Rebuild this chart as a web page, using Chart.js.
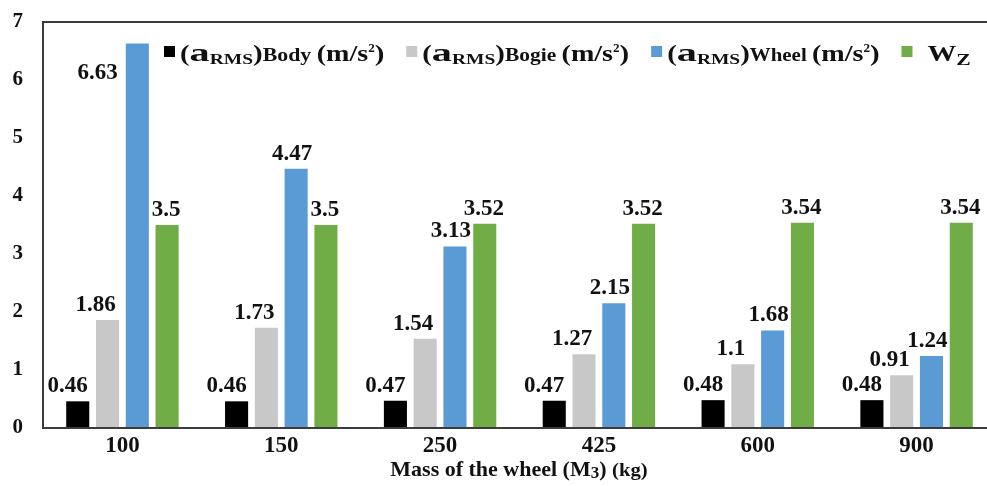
<!DOCTYPE html>
<html>
<head>
<meta charset="utf-8">
<script src="https://cdn.jsdelivr.net/npm/chart.js@4.4.1/dist/chart.umd.min.js"></script>
<style>
  html, body { margin: 0; padding: 0; background: #fff; overflow: hidden; }
  #wrap { width: 987px; height: 486px; overflow: hidden; position: relative; }
  #c { display: block; }
</style>
</head>
<body>
<div id="wrap"><canvas id="c" width="1000" height="486"></canvas></div>
<script>
// ---- data ----
const categories = ['100', '150', '250', '425', '600', '900'];
const bodyRms  = [0.46, 0.46, 0.47, 0.47, 0.48, 0.48];
const bogieRms = [1.86, 1.73, 1.54, 1.27, 1.1, 0.91];
const wheelRms = [6.63, 4.47, 3.13, 2.15, 1.68, 1.24];
const wz       = [3.5, 3.5, 3.52, 3.52, 3.54, 3.54];
const yTickValues = [0, 1, 2, 3, 4, 5, 6, 7];

const FONT = "'Liberation Serif', 'Times New Roman', serif";
const colors = ['#000000', '#c8c8c8', '#5b9bd5', '#70ad47'];

// legend text as rich segments (size, horizontal scale, vertical shift)
const legendItems = [
  { color: colors[0], segs: [
    { t: '(', s: 24, sx: 1.2 }, { t: 'a', s: 26, sx: 1.55 }, { t: 'RMS', s: 15, sx: 1.3, dy: 3 },
    { t: ')', s: 24, sx: 1.2 }, { t: 'Body ', s: 19, sx: 1.15 }, { t: '(m/s', s: 24, sx: 1.17 },
    { t: '2', s: 13, dy: -9 }, { t: ')', s: 24, sx: 1.2 } ] },
  { color: colors[1], segs: [
    { t: '(', s: 24, sx: 1.2 }, { t: 'a', s: 26, sx: 1.55 }, { t: 'RMS', s: 15, sx: 1.3, dy: 3 },
    { t: ')', s: 24, sx: 1.2 }, { t: 'Bogie ', s: 19, sx: 1.13 }, { t: '(m/s', s: 24, sx: 1.17 },
    { t: '2', s: 13, dy: -9 }, { t: ')', s: 24, sx: 1.2 } ] },
  { color: colors[2], segs: [
    { t: '(', s: 24, sx: 1.2 }, { t: 'a', s: 26, sx: 1.55 }, { t: 'RMS', s: 15, sx: 1.3, dy: 3 },
    { t: ')', s: 24, sx: 1.2 }, { t: 'Wheel ', s: 19, sx: 1.1 }, { t: '(m/s', s: 24, sx: 1.17 },
    { t: '2', s: 13, dy: -9 }, { t: ')', s: 24, sx: 1.2 } ] },
  { color: colors[3], segs: [
    { t: 'W', s: 23, sx: 1.25 }, { t: 'Z', s: 16, sx: 1.35, dy: 4 } ] }
];

const xTitleSegs = [
  { t: 'Mass of the wheel (M', s: 22 }, { t: '3', s: 17, dy: 2 }, { t: ') ', s: 22 },
  { t: '(kg)', s: 18, sx: 1.15 }
];

function segWidth(ctx, seg) {
  ctx.font = 'bold ' + seg.s + 'px ' + FONT;
  return ctx.measureText(seg.t).width * (seg.sx || 1);
}
function drawSegs(ctx, segs, x, baseline) {
  for (const seg of segs) {
    ctx.font = 'bold ' + seg.s + 'px ' + FONT;
    const w = ctx.measureText(seg.t).width;
    ctx.save();
    ctx.translate(x, baseline + (seg.dy || 0));
    ctx.scale(seg.sx || 1, 1);
    ctx.fillText(seg.t, 0, 0);
    ctx.restore();
    x += w * (seg.sx || 1);
  }
  return x;
}

const framePlugin = {
  id: 'frame',
  afterDraw(chart) {
    const { ctx, chartArea: a } = chart;
    ctx.save();
    ctx.strokeStyle = '#3c3c3c';
    ctx.lineWidth = 2;
    ctx.strokeRect(a.left, a.top, a.right - a.left, a.bottom - a.top);
    ctx.restore();
  }
};

const labelDx = [-10, -12, -4, -1];
const valueLabelPlugin = {
  id: 'valueLabels',
  afterDatasetsDraw(chart) {
    const { ctx, chartArea: a } = chart;
    ctx.save();
    ctx.fillStyle = '#111';
    ctx.font = 'bold 23px ' + FONT;
    ctx.textAlign = 'center';
    ctx.textBaseline = 'middle';
    chart.data.datasets.forEach((ds, di) => {
      const meta = chart.getDatasetMeta(di);
      meta.data.forEach((bar, i) => {
        const txt = String(ds.data[i]);
        const w = ctx.measureText(txt).width;
        let x = bar.x + labelDx[di];
        let y = bar.y - 15;
        if (bar.y - a.top < 40) {       // no room above: put it beside the bar
          x = bar.x - bar.width / 2 - 8 - w / 2;
          y = bar.y + 30;
        }
        ctx.fillText(txt, x, y);
      });
    });
    ctx.restore();
  }
};

const customLegendPlugin = {
  id: 'richLegend',
  afterDraw(chart) {
    const { ctx } = chart;
    ctx.save();
    ctx.textBaseline = 'alphabetic';
    ctx.textAlign = 'left';
    let x = 164;
    const baseline = 61;
    legendItems.forEach((it, idx) => {
      ctx.fillStyle = it.color;
      ctx.fillRect(x, 46, 11, 11);
      x += 11 + (idx === 3 ? 15 : 5);
      ctx.fillStyle = '#111';
      x = drawSegs(ctx, it.segs, x, baseline);
      x += 22;
    });
    // x-axis title
    const a = chart.chartArea;
    let total = 0;
    xTitleSegs.forEach(s => total += segWidth(ctx, s));
    const cx = (a.left + Math.min(a.right, 987)) / 2 + 4;
    ctx.fillStyle = '#111';
    drawSegs(ctx, xTitleSegs, cx - total / 2, 476);
    ctx.restore();
  }
};

new Chart(document.getElementById('c'), {
  type: 'bar',
  data: {
    labels: categories,
    datasets: [
      { label: '(aRMS)Body (m/s2)',  data: bodyRms,  backgroundColor: colors[0] },
      { label: '(aRMS)Bogie (m/s2)', data: bogieRms, backgroundColor: colors[1] },
      { label: '(aRMS)Wheel (m/s2)', data: wheelRms, backgroundColor: colors[2] },
      { label: 'WZ',                 data: wz,       backgroundColor: colors[3] }
    ]
  },
  options: {
    responsive: false,
    animation: false,
    layout: { padding: { top: 22, right: 4, bottom: 0, left: 0 } },
    datasets: { bar: { categoryPercentage: 0.75, barPercentage: 0.775 } },
    plugins: {
      legend: { display: false },
      title: { display: false },
      tooltip: { enabled: false }
    },
    scales: {
      x: {
        grid: { display: false, drawTicks: false },
        border: { display: false },
        ticks: { color: '#111', font: { family: FONT, size: 23, weight: 'bold' }, padding: 4 },
        afterFit(s) { s.height = 58; s.paddingLeft = 0; s.paddingRight = 0; }
      },
      y: {
        min: 0, max: 7,
        grid: { display: false, drawTicks: false },
        border: { display: false },
        afterBuildTicks(s) { s.ticks = yTickValues.map(v => ({ value: v })); },
        ticks: { color: '#111', font: { family: FONT, size: 21, weight: 'bold' }, padding: 20 },
        afterFit(s) { s.width = 43; s.paddingTop = 0; s.paddingBottom = 0; }
      }
    }
  },
  plugins: [framePlugin, valueLabelPlugin, customLegendPlugin]
});
</script>
</body>
</html>
